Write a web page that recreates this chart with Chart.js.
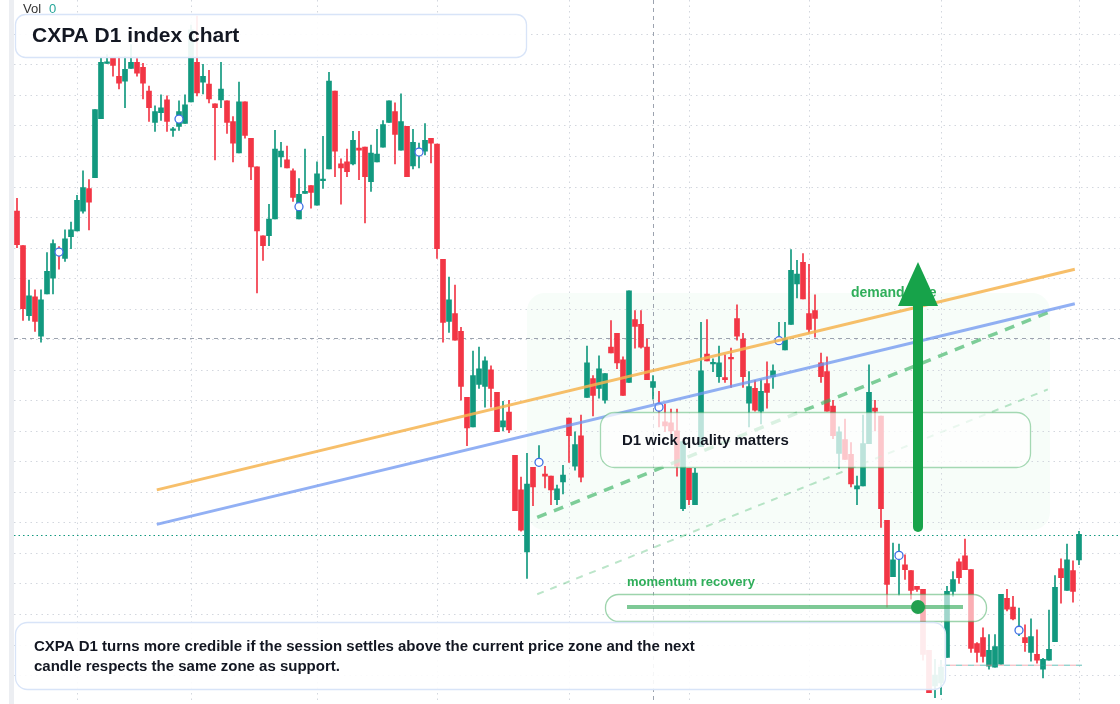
<!DOCTYPE html>
<html>
<head>
<meta charset="utf-8">
<script src="https://cdn.jsdelivr.net/npm/chart.js@4"></script>
<style>
  html, body { margin: 0; background: #fff; }
  #wrap { width: 1120px; height: 704px; position: relative; }
</style>
</head>
<body>
<div id="wrap"><canvas id="chart"></canvas></div>
<script>
// CXPA D1 candles (index points)
const openP = [495,460,389,408,368,411,427,456,447,469,475,495,518,529,589,645,651,632,627,640,
646,641,617,585,595,608,577,581,584,606,646,626,624,604,608,607,586,554,606,569,
540,470,470,487,550,547,536,487,513,521,501,526,538,617,543,545,543,559,560,525,
545,560,585,596,557,581,541,554,556,569,563,446,383,391,373,306,276,319,317,334,
311,276,291,247,212,149,235,239,228,226,202,220,285,236,267,306,325,315,303,357,
371,344,321,385,380,357,316,298,281,280,272,193,234,197,256,350,340,327,326,346,
386,365,300,315,292,320,327,363,354,380,421,443,391,394,341,332,297,249,263,248,
213,216,259,295,287,181,124,145,136,130,114,111,49,13,16,42,109,139,145,131,
56,62,33,32,35,102,93,69,62,47,45,30,39,58,132,110,130,141];
const highP = [508,460,425,415,415,453,466,459,476,484,511,536,527,598,651,654,651,652,652,664,
650,645,622,602,613,612,580,607,613,684,693,644,638,604,646,607,591,626,606,569,
540,470,502,577,565,561,538,528,558,521,545,571,636,617,548,558,576,576,560,562,
578,587,607,605,614,581,578,564,584,569,563,446,428,420,377,306,353,357,347,338,
311,302,303,247,225,249,235,257,236,226,217,237,285,271,288,358,328,348,330,384,
371,347,414,394,394,365,328,312,299,294,294,261,234,234,382,385,345,358,349,356,
400,371,332,323,324,342,339,382,382,456,445,452,441,410,351,347,303,276,284,260,
226,288,339,303,287,181,158,157,146,130,114,111,49,40,39,114,129,142,162,131,
57,72,65,65,106,111,104,92,75,81,70,41,90,125,142,157,140,170];
const lowP = [458,384,384,373,362,411,411,436,444,457,475,493,476,529,589,645,632,619,600,640,
632,609,586,576,587,576,571,577,584,606,612,614,605,547,600,574,545,554,569,527,
412,445,460,487,540,539,505,487,513,498,501,518,538,530,502,530,542,527,483,515,
545,560,585,543,557,530,538,539,552,544,447,362,372,364,303,257,276,315,296,296,
271,272,270,191,170,122,196,237,214,197,197,208,240,232,220,306,287,305,300,351,
335,308,321,356,356,324,304,276,271,269,226,191,197,197,256,343,332,321,321,316,
364,316,276,292,279,295,315,362,354,380,407,406,371,367,321,292,264,234,243,215,
197,216,259,272,174,93,124,105,121,101,109,39,6,1,4,42,104,117,131,47,
37,37,30,32,35,89,80,64,48,38,36,21,39,58,97,110,98,136];
const closeP = [461,396,409,383,405,434,462,451,467,476,506,519,504,598,646,646,643,625,639,646,
635,625,600,596,600,586,578,596,603,679,615,632,609,600,619,585,564,606,572,540,
475,460,487,558,556,539,509,512,515,514,533,527,627,556,539,535,567,557,530,554,
553,583,607,573,586,530,565,556,567,564,457,382,405,364,317,275,328,335,343,315,
271,282,273,191,171,218,215,241,226,212,213,227,267,258,225,341,308,335,330,351,
341,308,414,378,357,324,322,294,277,272,236,261,202,229,333,343,341,341,324,345,
368,327,317,293,312,311,333,364,365,435,431,406,375,386,327,292,267,271,243,218,
216,259,311,292,193,116,141,146,131,110,111,45,6,24,32,109,121,123,131,51,
47,43,49,53,106,91,81,70,57,63,39,40,50,113,123,141,109,167];
const days = openP.map((_, i) => 'D' + (i + 1));

// overlay lines: [startIndex, startPrice, endIndex, endPrice]
const orangeTrend = [23.3, 212, 176.3, 436];
const blueTrend = [23.3, 177, 176.3, 401];
const greenChannel = [86.7, 184, 171.8, 392];
const greenChannelLow = [86.7, 106, 171.8, 314];
const supportLine = [153.5, 34, 177.5, 34];
const markerDays = [7, 27, 47, 67, 87, 107, 127, 147, 167];
const gridDays = [10, 29, 50, 70, 92, 112, 132, 154, 177];
const gridPrices = [675,644,613,582,551,520,489,458,427,396,365,334,303,272,241,210,179,148,117,86,55,24];
const lastPrice = 166;
const crossDay = 106, crossPrice = 366;

const UP = '#12997f', DOWN = '#f23645';
const candleColors = openP.map((o, i) => closeP[i] >= o ? UP : DOWN);
const seg = a => [{x: a[0], y: a[1]}, {x: a[2], y: a[3]}];

function roundBox(ctx, x, y, w, h, r, fill, stroke) {
    ctx.beginPath();
    ctx.roundRect(x, y, w, h, r);
    ctx.fillStyle = fill; ctx.fill();
    if (stroke) { ctx.strokeStyle = stroke; ctx.lineWidth = 1.3; ctx.stroke(); }
}

const FONT = '"Liberation Sans", Arial, sans-serif';

const backdrop = {
    id: 'backdrop',
    beforeDatasetsDraw(chart) {
        const ctx = chart.ctx, xs = chart.scales.xl, ys = chart.scales.y;
        const W = chart.width;
        ctx.save();
        ctx.fillStyle = '#eceef2';
        ctx.fillRect(9, 0, 5, chart.height);
        // zone tint
        roundBox(ctx, 527, 293, 523, 237, 18, 'rgba(34,197,94,0.035)');
        ctx.strokeStyle = '#d3d7de'; ctx.lineWidth = 1; ctx.setLineDash([1.5, 4]);
        gridPrices.forEach(p => {
            const y = Math.round(ys.getPixelForValue(p)) + 0.5;
            ctx.beginPath(); ctx.moveTo(14, y); ctx.lineTo(W, y); ctx.stroke();
        });
        gridDays.forEach(d => {
            const x = Math.round(xs.getPixelForValue(d)) + 0.5;
            ctx.beginPath(); ctx.moveTo(x, 0); ctx.lineTo(x, chart.height); ctx.stroke();
        });
        // crosshair
        ctx.strokeStyle = '#9ca3af'; ctx.setLineDash([4, 4]);
        let y = Math.round(ys.getPixelForValue(crossPrice)) + 0.5;
        ctx.beginPath(); ctx.moveTo(14, y); ctx.lineTo(W, y); ctx.stroke();
        const x = Math.round(xs.getPixelForValue(crossDay)) + 0.5;
        ctx.beginPath(); ctx.moveTo(x, 0); ctx.lineTo(x, chart.height); ctx.stroke();
        // last price
        ctx.strokeStyle = '#12997f'; ctx.setLineDash([1.5, 3]);
        y = Math.round(ys.getPixelForValue(lastPrice)) + 0.5;
        ctx.beginPath(); ctx.moveTo(14, y); ctx.lineTo(W, y); ctx.stroke();
        ctx.restore();
    }
};

const notes = {
    id: 'notes',
    afterDatasetsDraw(chart) {
        const ctx = chart.ctx;
        ctx.save();
        ctx.textBaseline = 'middle';
        ctx.font = '13px ' + FONT; ctx.fillStyle = '#333';
        ctx.fillText('Vol', 23, 9);
        ctx.fillStyle = '#26a69a'; ctx.fillText('0', 49, 9);

        roundBox(ctx, 15.5, 14.5, 511, 43, 10, 'rgba(255,255,255,0.92)', '#d8e4f8');
        ctx.font = 'bold 21px ' + FONT; ctx.fillStyle = '#131722';
        ctx.fillText('CXPA D1 index chart', 32, 36);

        roundBox(ctx, 600.5, 412.5, 430, 55, 14, 'rgba(255,255,255,0.72)', 'rgba(60,170,90,0.45)');
        ctx.font = 'bold 15px ' + FONT; ctx.fillStyle = '#131722';
        ctx.fillText('D1 wick quality matters', 622, 441);

        ctx.font = 'bold 14px ' + FONT; ctx.fillStyle = '#2fae5a';
        ctx.fillText('demand side', 851, 293);

        // arrow
        ctx.strokeStyle = '#17a34a'; ctx.lineWidth = 10; ctx.lineCap = 'round';
        ctx.beginPath(); ctx.moveTo(918, 527); ctx.lineTo(918, 300); ctx.stroke();
        ctx.fillStyle = '#17a34a';
        ctx.beginPath(); ctx.moveTo(918, 262); ctx.lineTo(938, 306); ctx.lineTo(898, 306); ctx.closePath(); ctx.fill();

        ctx.font = 'bold 13px ' + FONT; ctx.fillStyle = '#2fae5a';
        ctx.fillText('momentum recovery', 627, 582);
        roundBox(ctx, 605.5, 594.5, 381, 27, 13, 'rgba(255,255,255,0.6)', 'rgba(60,170,90,0.5)');
        ctx.strokeStyle = 'rgba(40,165,80,0.6)'; ctx.lineWidth = 4; ctx.lineCap = 'butt';
        ctx.beginPath(); ctx.moveTo(627, 607); ctx.lineTo(963, 607); ctx.stroke();
        ctx.fillStyle = '#22a04f';
        ctx.beginPath(); ctx.arc(918, 607, 7, 0, Math.PI * 2); ctx.fill();

        roundBox(ctx, 15.5, 622.5, 930, 67, 12, 'rgba(255,255,255,0.9)', '#d8e4f8');
        ctx.font = 'bold 15px ' + FONT; ctx.fillStyle = '#131722';
        ctx.fillText('CXPA D1 turns more credible if the session settles above the current price zone and the next', 34, 647);
        ctx.fillText('candle respects the same zone as support.', 34, 667);
        ctx.restore();
    }
};

const lineDs = (data, color, width, dash, extra) => Object.assign({
    type: 'line', data: seg(data), xAxisID: 'xl', borderColor: color, borderWidth: width,
    borderDash: dash, pointRadius: 0, order: 0, fill: false
}, extra || {});

new Chart(document.getElementById('chart'), {
    type: 'bar',
    data: {
        labels: days,
        datasets: [
            lineDs(orangeTrend, 'rgba(246,180,80,0.85)', 3, []),
            lineDs(blueTrend, 'rgba(110,150,240,0.75)', 3, []),
            lineDs(greenChannel, 'rgba(60,180,100,0.65)', 3.5, [10, 8]),
            lineDs(greenChannelLow, 'rgba(60,180,100,0.35)', 2, [7, 7]),
            lineDs(supportLine, 'rgba(240,140,150,0.7)', 1, [6, 6]),
            lineDs(supportLine, 'rgba(38,166,154,0.7)', 1, [6, 6], {borderDashOffset: 6}),
            {
                type: 'scatter', xAxisID: 'xl', order: 0,
                data: markerDays.map(d => ({x: d, y: (openP[d] + closeP[d]) / 2})),
                pointRadius: 4, pointBackgroundColor: '#fff', pointBorderColor: '#3d6fe6', pointBorderWidth: 1.3
            },
            {
                label: 'wick', data: lowP.map((l, i) => [l, highP[i]]),
                backgroundColor: candleColors, barThickness: 1, grouped: false, order: 3
            },
            {
                label: 'body', data: openP.map((o, i) => [o, closeP[i]]),
                backgroundColor: candleColors, barThickness: 5, minBarLength: 1.5, grouped: false, order: 2
            }
        ]
    },
    options: {
        responsive: true,
        maintainAspectRatio: false,
        animation: false,
        layout: { padding: { left: 14, right: 38, top: 0, bottom: 0 } },
        plugins: { legend: { display: false }, tooltip: { enabled: false } },
        scales: {
            x: { type: 'category', offset: true, display: false },
            xl: { type: 'linear', offset: false, min: -0.5, max: days.length - 0.5, display: false, grid: { offset: false } },
            y: { min: 0, max: 704, display: false }
        }
    },
    plugins: [backdrop, notes]
});
</script>
</body>
</html>
